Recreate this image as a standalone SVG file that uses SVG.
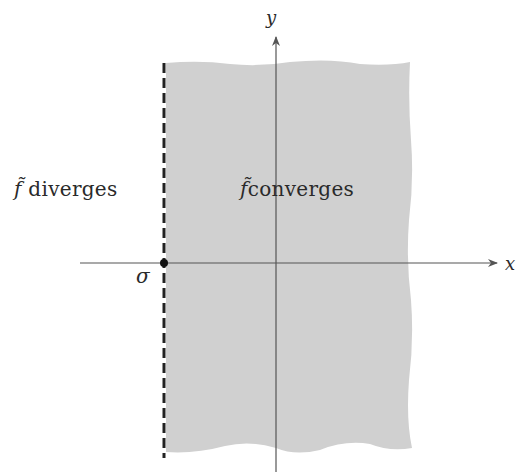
<svg xmlns="http://www.w3.org/2000/svg" width="521" height="472" viewBox="0 0 521 472">
<defs>
<style>
text{font-family:"DejaVu Serif","Liberation Serif",serif;fill:#2a2a2a;}
.ax{stroke:#555;stroke-width:1.2;fill:none;}
</style>
<marker id="ar" markerWidth="10" markerHeight="8" refX="9" refY="4" orient="auto" markerUnits="userSpaceOnUse">
<path d="M0,0 L10,4 L0,8 L3,4 Z" fill="#555"/>
</marker>
</defs>
<rect width="521" height="472" fill="#fff"/>
<g id="region">
<path d="M166,63 Q200,60 230,64 Q260,67 290,62 Q330,58 360,64 Q390,66 410,62 Q408,100 411,140 Q414,180 409,220 Q406,260 411,300 Q414,340 409,380 Q406,420 412,448 Q390,452 370,444 Q345,440 320,450 Q295,456 276,448 Q250,440 225,446 Q195,454 166,452 Z" fill="#d0d0d0"/>
</g>
<g id="connectors">
<line class="ax" x1="80" y1="263" x2="497" y2="263" marker-end="url(#ar)"/>
<line class="ax" x1="276" y1="472" x2="276" y2="37" marker-end="url(#ar)"/>
<line x1="164" y1="63" x2="164" y2="458" stroke="#222" stroke-width="3" stroke-dasharray="10,5"/>
</g>
<g id="sigma-point">
<circle cx="164" cy="263" r="4" fill="#111"/>
<text x="136" y="283" font-size="20" font-style="italic">σ</text>
</g>
<g id="labels">
<text x="266" y="24" font-size="18" font-style="italic">y</text>
<text x="505" y="270" font-size="18" font-style="italic">x</text>
<text x="14" y="196" font-size="20" letter-spacing="0.3"><tspan font-style="italic">f̃</tspan> diverges</text>
<text x="240" y="196" font-size="20" letter-spacing="0.3"><tspan font-style="italic">f̃</tspan>converges</text>
</g>
</svg>
